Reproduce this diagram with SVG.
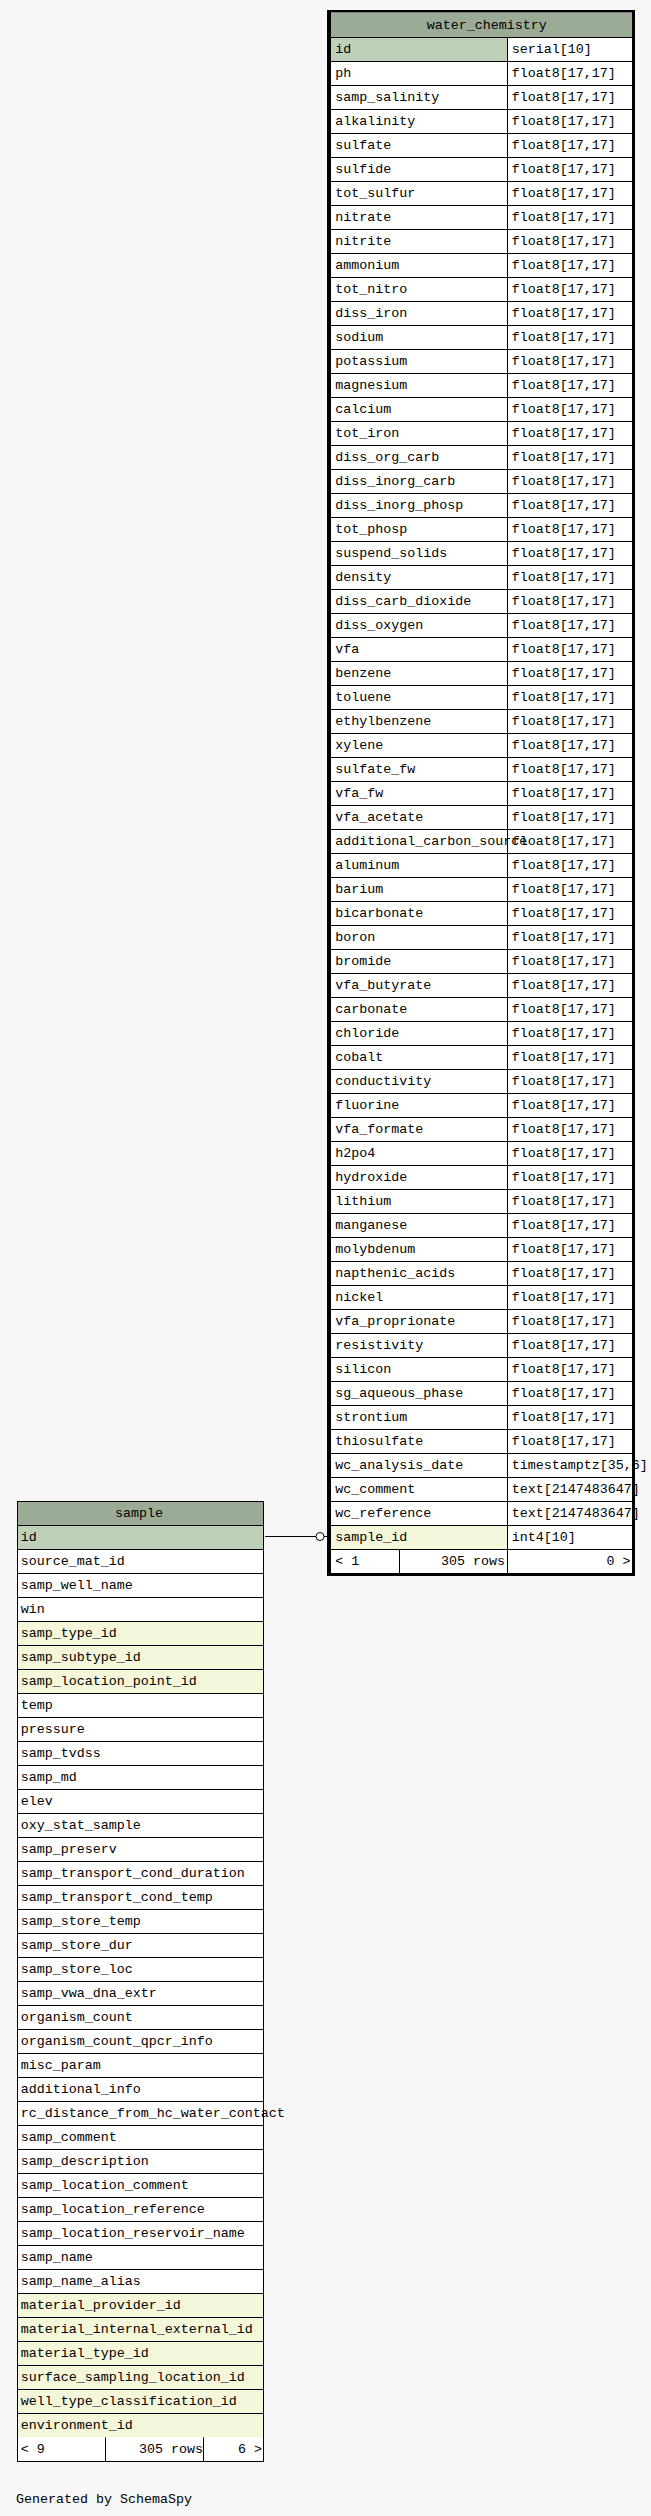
<svg xmlns="http://www.w3.org/2000/svg" width="651" height="2516" viewBox="0 0 651 2516">
<style>
text{font-family:"Liberation Mono","DejaVu Sans Mono",monospace;font-size:13.33px;fill:#000}
.e{text-anchor:end}
.hd{fill:#9bab96}
.pk{fill:#bed1b8}
.fk{fill:#f4f7da}
.w{fill:#ffffff}
.ln{fill:none;stroke:#000;stroke-width:1}
</style>
<rect x="0" y="0" width="651" height="2516" fill="#f7f7f7"/>
<g id="connectors">
<path class="ln" d="M265 1536.5H316M324 1536.5H328"/>
<circle cx="320" cy="1536.5" r="4" fill="#ffffff" stroke="#000" stroke-width="1"/>
</g>
<g id="water_chemistry">
<rect class="w" x="331" y="13" width="301" height="1560"/>
<rect class="hd" x="331" y="13" width="301" height="24.5"/>
<rect class="pk" x="331" y="37.5" width="176.5" height="24"/>
<rect class="fk" x="331" y="1525.5" width="176.5" height="24"/>
<text x="426.7" y="29.3">water_chemistry</text>
<text x="335.3" y="53.3">id</text><text x="511.7" y="53.3">serial[10]</text>
<text x="335.3" y="77.3">ph</text><text x="511.7" y="77.3">float8[17,17]</text>
<text x="335.3" y="101.3">samp_salinity</text><text x="511.7" y="101.3">float8[17,17]</text>
<text x="335.3" y="125.3">alkalinity</text><text x="511.7" y="125.3">float8[17,17]</text>
<text x="335.3" y="149.3">sulfate</text><text x="511.7" y="149.3">float8[17,17]</text>
<text x="335.3" y="173.3">sulfide</text><text x="511.7" y="173.3">float8[17,17]</text>
<text x="335.3" y="197.3">tot_sulfur</text><text x="511.7" y="197.3">float8[17,17]</text>
<text x="335.3" y="221.3">nitrate</text><text x="511.7" y="221.3">float8[17,17]</text>
<text x="335.3" y="245.3">nitrite</text><text x="511.7" y="245.3">float8[17,17]</text>
<text x="335.3" y="269.3">ammonium</text><text x="511.7" y="269.3">float8[17,17]</text>
<text x="335.3" y="293.3">tot_nitro</text><text x="511.7" y="293.3">float8[17,17]</text>
<text x="335.3" y="317.3">diss_iron</text><text x="511.7" y="317.3">float8[17,17]</text>
<text x="335.3" y="341.3">sodium</text><text x="511.7" y="341.3">float8[17,17]</text>
<text x="335.3" y="365.3">potassium</text><text x="511.7" y="365.3">float8[17,17]</text>
<text x="335.3" y="389.3">magnesium</text><text x="511.7" y="389.3">float8[17,17]</text>
<text x="335.3" y="413.3">calcium</text><text x="511.7" y="413.3">float8[17,17]</text>
<text x="335.3" y="437.3">tot_iron</text><text x="511.7" y="437.3">float8[17,17]</text>
<text x="335.3" y="461.3">diss_org_carb</text><text x="511.7" y="461.3">float8[17,17]</text>
<text x="335.3" y="485.3">diss_inorg_carb</text><text x="511.7" y="485.3">float8[17,17]</text>
<text x="335.3" y="509.3">diss_inorg_phosp</text><text x="511.7" y="509.3">float8[17,17]</text>
<text x="335.3" y="533.3">tot_phosp</text><text x="511.7" y="533.3">float8[17,17]</text>
<text x="335.3" y="557.3">suspend_solids</text><text x="511.7" y="557.3">float8[17,17]</text>
<text x="335.3" y="581.3">density</text><text x="511.7" y="581.3">float8[17,17]</text>
<text x="335.3" y="605.3">diss_carb_dioxide</text><text x="511.7" y="605.3">float8[17,17]</text>
<text x="335.3" y="629.3">diss_oxygen</text><text x="511.7" y="629.3">float8[17,17]</text>
<text x="335.3" y="653.3">vfa</text><text x="511.7" y="653.3">float8[17,17]</text>
<text x="335.3" y="677.3">benzene</text><text x="511.7" y="677.3">float8[17,17]</text>
<text x="335.3" y="701.3">toluene</text><text x="511.7" y="701.3">float8[17,17]</text>
<text x="335.3" y="725.3">ethylbenzene</text><text x="511.7" y="725.3">float8[17,17]</text>
<text x="335.3" y="749.3">xylene</text><text x="511.7" y="749.3">float8[17,17]</text>
<text x="335.3" y="773.3">sulfate_fw</text><text x="511.7" y="773.3">float8[17,17]</text>
<text x="335.3" y="797.3">vfa_fw</text><text x="511.7" y="797.3">float8[17,17]</text>
<text x="335.3" y="821.3">vfa_acetate</text><text x="511.7" y="821.3">float8[17,17]</text>
<text x="335.3" y="845.3">additional_carbon_source</text><text x="511.7" y="845.3">float8[17,17]</text>
<text x="335.3" y="869.3">aluminum</text><text x="511.7" y="869.3">float8[17,17]</text>
<text x="335.3" y="893.3">barium</text><text x="511.7" y="893.3">float8[17,17]</text>
<text x="335.3" y="917.3">bicarbonate</text><text x="511.7" y="917.3">float8[17,17]</text>
<text x="335.3" y="941.3">boron</text><text x="511.7" y="941.3">float8[17,17]</text>
<text x="335.3" y="965.3">bromide</text><text x="511.7" y="965.3">float8[17,17]</text>
<text x="335.3" y="989.3">vfa_butyrate</text><text x="511.7" y="989.3">float8[17,17]</text>
<text x="335.3" y="1013.3">carbonate</text><text x="511.7" y="1013.3">float8[17,17]</text>
<text x="335.3" y="1037.3">chloride</text><text x="511.7" y="1037.3">float8[17,17]</text>
<text x="335.3" y="1061.3">cobalt</text><text x="511.7" y="1061.3">float8[17,17]</text>
<text x="335.3" y="1085.3">conductivity</text><text x="511.7" y="1085.3">float8[17,17]</text>
<text x="335.3" y="1109.3">fluorine</text><text x="511.7" y="1109.3">float8[17,17]</text>
<text x="335.3" y="1133.3">vfa_formate</text><text x="511.7" y="1133.3">float8[17,17]</text>
<text x="335.3" y="1157.3">h2po4</text><text x="511.7" y="1157.3">float8[17,17]</text>
<text x="335.3" y="1181.3">hydroxide</text><text x="511.7" y="1181.3">float8[17,17]</text>
<text x="335.3" y="1205.3">lithium</text><text x="511.7" y="1205.3">float8[17,17]</text>
<text x="335.3" y="1229.3">manganese</text><text x="511.7" y="1229.3">float8[17,17]</text>
<text x="335.3" y="1253.3">molybdenum</text><text x="511.7" y="1253.3">float8[17,17]</text>
<text x="335.3" y="1277.3">napthenic_acids</text><text x="511.7" y="1277.3">float8[17,17]</text>
<text x="335.3" y="1301.3">nickel</text><text x="511.7" y="1301.3">float8[17,17]</text>
<text x="335.3" y="1325.3">vfa_proprionate</text><text x="511.7" y="1325.3">float8[17,17]</text>
<text x="335.3" y="1349.3">resistivity</text><text x="511.7" y="1349.3">float8[17,17]</text>
<text x="335.3" y="1373.3">silicon</text><text x="511.7" y="1373.3">float8[17,17]</text>
<text x="335.3" y="1397.3">sg_aqueous_phase</text><text x="511.7" y="1397.3">float8[17,17]</text>
<text x="335.3" y="1421.3">strontium</text><text x="511.7" y="1421.3">float8[17,17]</text>
<text x="335.3" y="1445.3">thiosulfate</text><text x="511.7" y="1445.3">float8[17,17]</text>
<text x="335.3" y="1469.3">wc_analysis_date</text><text x="511.7" y="1469.3">timestamptz[35,6]</text>
<text x="335.3" y="1493.3">wc_comment</text><text x="511.7" y="1493.3">text[2147483647]</text>
<text x="335.3" y="1517.3">wc_reference</text><text x="511.7" y="1517.3">text[2147483647]</text>
<text x="335.3" y="1541.3">sample_id</text><text x="511.7" y="1541.3">int4[10]</text>
<text x="335.3" y="1565.3">&lt; 1</text>
<text class="e" x="505" y="1565.3">305 rows</text>
<text class="e" x="630.5" y="1565.3">0 &gt;</text>
<path class="ln" d="M331 37.5h301m-301 24h301m-301 24h301m-301 24h301m-301 24h301m-301 24h301m-301 24h301m-301 24h301m-301 24h301m-301 24h301m-301 24h301m-301 24h301m-301 24h301m-301 24h301m-301 24h301m-301 24h301m-301 24h301m-301 24h301m-301 24h301m-301 24h301m-301 24h301m-301 24h301m-301 24h301m-301 24h301m-301 24h301m-301 24h301m-301 24h301m-301 24h301m-301 24h301m-301 24h301m-301 24h301m-301 24h301m-301 24h301m-301 24h301m-301 24h301m-301 24h301m-301 24h301m-301 24h301m-301 24h301m-301 24h301m-301 24h301m-301 24h301m-301 24h301m-301 24h301m-301 24h301m-301 24h301m-301 24h301m-301 24h301m-301 24h301m-301 24h301m-301 24h301m-301 24h301m-301 24h301m-301 24h301m-301 24h301m-301 24h301m-301 24h301m-301 24h301m-301 24h301m-301 24h301m-301 24h301m-301 24h301m-301 24h301m-301 24h301"/>
<path class="ln" d="M507.5 37.5V1573M399.5 1549.5V1573"/>
<path fill="#000" fill-rule="evenodd" d="M327 10H635V1576H327Z M331 12.5V1573H632V12.5Z"/>
</g>
<g id="sample">
<rect class="w" x="17.5" y="1501.5" width="246" height="960"/>
<rect class="hd" x="17.5" y="1501.5" width="246" height="24"/>
<rect class="pk" x="17.5" y="1525.5" width="246" height="24"/>
<rect class="fk" x="17.5" y="1621.5" width="246" height="72"/>
<rect class="fk" x="17.5" y="2293.5" width="246" height="144"/>
<text x="115" y="1517.3">sample</text>
<text x="20.7" y="1541.3">id</text>
<text x="20.7" y="1565.3">source_mat_id</text>
<text x="20.7" y="1589.3">samp_well_name</text>
<text x="20.7" y="1613.3">win</text>
<text x="20.7" y="1637.3">samp_type_id</text>
<text x="20.7" y="1661.3">samp_subtype_id</text>
<text x="20.7" y="1685.3">samp_location_point_id</text>
<text x="20.7" y="1709.3">temp</text>
<text x="20.7" y="1733.3">pressure</text>
<text x="20.7" y="1757.3">samp_tvdss</text>
<text x="20.7" y="1781.3">samp_md</text>
<text x="20.7" y="1805.3">elev</text>
<text x="20.7" y="1829.3">oxy_stat_sample</text>
<text x="20.7" y="1853.3">samp_preserv</text>
<text x="20.7" y="1877.3">samp_transport_cond_duration</text>
<text x="20.7" y="1901.3">samp_transport_cond_temp</text>
<text x="20.7" y="1925.3">samp_store_temp</text>
<text x="20.7" y="1949.3">samp_store_dur</text>
<text x="20.7" y="1973.3">samp_store_loc</text>
<text x="20.7" y="1997.3">samp_vwa_dna_extr</text>
<text x="20.7" y="2021.3">organism_count</text>
<text x="20.7" y="2045.3">organism_count_qpcr_info</text>
<text x="20.7" y="2069.3">misc_param</text>
<text x="20.7" y="2093.3">additional_info</text>
<text x="20.7" y="2117.3">rc_distance_from_hc_water_contact</text>
<text x="20.7" y="2141.3">samp_comment</text>
<text x="20.7" y="2165.3">samp_description</text>
<text x="20.7" y="2189.3">samp_location_comment</text>
<text x="20.7" y="2213.3">samp_location_reference</text>
<text x="20.7" y="2237.3">samp_location_reservoir_name</text>
<text x="20.7" y="2261.3">samp_name</text>
<text x="20.7" y="2285.3">samp_name_alias</text>
<text x="20.7" y="2309.3">material_provider_id</text>
<text x="20.7" y="2333.3">material_internal_external_id</text>
<text x="20.7" y="2357.3">material_type_id</text>
<text x="20.7" y="2381.3">surface_sampling_location_id</text>
<text x="20.7" y="2405.3">well_type_classification_id</text>
<text x="20.7" y="2429.3">environment_id</text>
<text x="20.7" y="2453.3">&lt; 9</text>
<text class="e" x="203" y="2453.3">305 rows</text>
<text class="e" x="262" y="2453.3">6 &gt;</text>
<path class="ln" d="M17.5 1525.5h246m-246 24h246m-246 24h246m-246 24h246m-246 24h246m-246 24h246m-246 24h246m-246 24h246m-246 24h246m-246 24h246m-246 24h246m-246 24h246m-246 24h246m-246 24h246m-246 24h246m-246 24h246m-246 24h246m-246 24h246m-246 24h246m-246 24h246m-246 24h246m-246 24h246m-246 24h246m-246 24h246m-246 24h246m-246 24h246m-246 24h246m-246 24h246m-246 24h246m-246 24h246m-246 24h246m-246 24h246m-246 24h246m-246 24h246m-246 24h246m-246 24h246m-246 24h246m-246 24h246"/>
<path class="ln" d="M105.5 2437.5V2461.5M203.5 2437.5V2461.5"/>
<rect class="ln" x="17.5" y="1501.5" width="246" height="960"/>
</g>
<text x="16" y="2502.7">Generated by SchemaSpy</text>
</svg>
